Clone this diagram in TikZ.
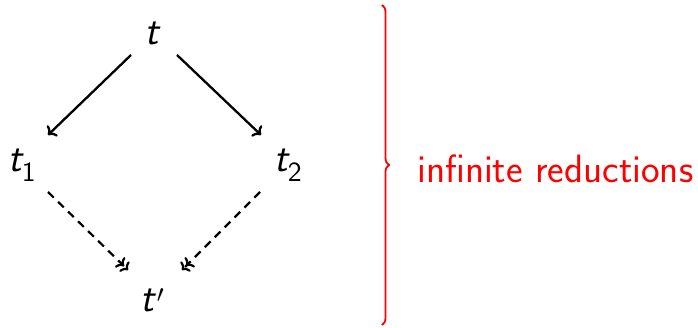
\documentclass[tikz,border=0pt]{standalone}
\usetikzlibrary{decorations.pathreplacing,arrows.meta,calc}
\DeclareFontFamily{OT1}{mysf}{}
\DeclareFontShape{OT1}{mysf}{m}{n}{<-> cmss10}{}
\DeclareFontShape{OT1}{mysf}{m}{sl}{<-> cmssi10}{}
\DeclareSymbolFont{sfletters}{OT1}{mysf}{m}{sl}
\SetSymbolFont{operators}{normal}{OT1}{mysf}{m}{n}
\DeclareMathSymbol{t}{\mathalpha}{sfletters}{`t}
\renewcommand{\familydefault}{\sfdefault}
\begin{document}
\begin{tikzpicture}[x=1pt,y=1pt,
  lbl/.style={font=\fontsize{39.5}{46}\selectfont, inner sep=0pt},
  solidarrow/.style={-{To[length=7pt,width=15pt]}, line width=2.3pt},
  dasharrow/.style={-{To[length=6pt,width=14pt]To[length=6pt,width=14pt]}, dash pattern=on 8pt off 6pt, line width=2.2pt}]
\useasboundingbox (0,0) rectangle (698,327);
\node[lbl] (t) at (153,294) {$t$};
\node[lbl] (t1) at (22,162) {$t_1$};
\node[lbl] (t2) at (288,162) {$t_2$};
\node[lbl] (tp) at (152,27) {$t'$};
\coordinate (a1) at ($(t)+(-22,-22)$);
\coordinate (b1) at ($(t1)+(26,30)$);
\coordinate (a2) at ($(t)+(24,-22)$);
\coordinate (b2) at ($(t2)+(-27,30)$);
\coordinate (c1) at ($(t1)+(26,-27)$);
\coordinate (d1) at ($(tp)+(-24,30)$);
\coordinate (c2) at ($(t2)+(-28,-27)$);
\coordinate (d2) at ($(tp)+(30,30)$);
\draw[solidarrow] (a1) -- (b1);
\draw[solidarrow] (a2) -- (b2);
\draw[dasharrow] (c1) -- (d1);
\draw[dasharrow] (c2) -- (d2);
\node[lbl, text=red, anchor=west] (inf) at (417,158) {infinite reductions};
\coordinate (bt) at (382,322);
\coordinate (bb) at (382,2);
\draw[color=red, line width=1.8pt, decorate, decoration={brace, amplitude=7pt}] (bt) -- (bb);
\end{tikzpicture}
\end{document}
